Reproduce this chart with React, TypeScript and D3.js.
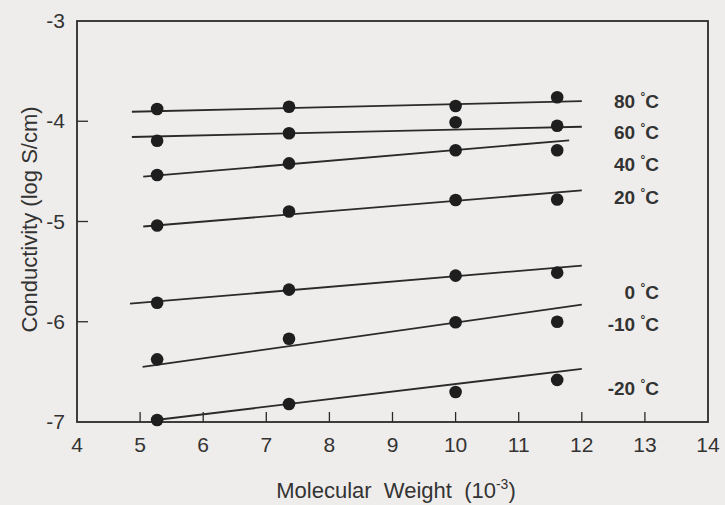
import React from "react";
import * as d3 from "d3";

const molecularWeights = [5.27, 7.36, 10.0, 11.61];
const seriesLabels = ["80", "60", "40", "20", "0", "-10", "-20"];
const conductivity80 = [-3.878, -3.855, -3.848, -3.76];
const conductivity60 = [-4.194, -4.12, -4.01, -4.045];
const conductivity40 = [-4.536, -4.42, -4.29, -4.29];
const conductivity20 = [-5.04, -4.9, -4.785, -4.78];
const conductivity0 = [-5.81, -5.68, -5.54, -5.51];
const conductivityM10 = [-6.375, -6.17, -6.005, -6.0];
const conductivityM20 = [-6.98, -6.82, -6.7, -6.58];
// fitted lines: [x0, y0, x1, y1] in data units
const fitLines = [
  [4.87, -3.905, 12.0, -3.8],
  [4.87, -4.157, 12.0, -4.055],
  [5.05, -4.553, 11.8, -4.19],
  [5.05, -5.05, 12.0, -4.69],
  [4.84, -5.82, 12.0, -5.44],
  [5.04, -6.45, 12.0, -5.83],
  [5.25, -6.98, 12.0, -6.47],
];
const labelValues = [-3.8, -4.11, -4.43, -4.76, -5.7, -6.02, -6.66];
const xTicks = [4, 5, 6, 7, 8, 9, 10, 11, 12, 13, 14];
const yTicks = [-3, -4, -5, -6, -7];

const series = [
  conductivity80,
  conductivity60,
  conductivity40,
  conductivity20,
  conductivity0,
  conductivityM10,
  conductivityM20,
];

const W = 725;
const H = 505;
const left = 77;
const right = 708;
const top = 21;
const bottom = 422;
const ink = "#2a2a2a";
const font = "'Liberation Sans', Arial, sans-serif";

export default function App() {
  const x = d3.scaleLinear().domain([4, 14]).range([left, right]);
  const y = d3.scaleLinear().domain([-7, -3]).range([bottom, top]);
  const line = d3
    .line<[number, number]>()
    .x((d) => x(d[0]))
    .y((d) => y(d[1]));

  return (
    <svg
      width={W}
      height={H}
      style={{ position: "absolute", left: 0, top: 0, display: "block" }}
    >
      <rect width={W} height={H} fill="#efedeb" />
      {/* frame */}
      <rect
        x={left}
        y={top}
        width={right - left}
        height={bottom - top}
        fill="none"
        stroke={ink}
        strokeWidth={1.8}
      />
      {/* x ticks */}
      {xTicks.map((t) => (
        <g key={"xt" + t}>
          {t > 4 && t < 14 && (
            <line
              x1={x(t)}
              x2={x(t)}
              y1={bottom}
              y2={bottom - 10}
              stroke={ink}
              strokeWidth={1.3}
            />
          )}
          <text
            x={x(t)}
            y={bottom + 30}
            textAnchor="middle"
            fontFamily={font}
            fontSize={21}
            fill="#333"
          >
            {t}
          </text>
        </g>
      ))}
      {/* y ticks */}
      {yTicks.map((t) => (
        <g key={"yt" + t}>
          {t > -7 && t < -3 && (
            <line
              x1={left}
              x2={left + 11}
              y1={y(t)}
              y2={y(t)}
              stroke={ink}
              strokeWidth={1.3}
            />
          )}
          <text
            x={left - 12}
            y={y(t) + 7}
            textAnchor="end"
            fontFamily={font}
            fontSize={21}
            fill="#333"
          >
            {t}
          </text>
        </g>
      ))}
      {/* fit lines */}
      {fitLines.map((l, i) => (
        <path
          key={"l" + i}
          d={line([
            [l[0], l[1]],
            [l[2], l[3]],
          ]) as string}
          fill="none"
          stroke={ink}
          strokeWidth={1.8}
        />
      ))}
      {/* points */}
      {series.map((s, i) =>
        s.map((v, j) => (
          <circle
            key={"p" + i + "-" + j}
            cx={x(molecularWeights[j])}
            cy={y(v)}
            r={6.3}
            fill="#1e1e1e"
          />
        ))
      )}
      {/* series labels */}
      {seriesLabels.map((lab, i) => (
        <text
          key={"lab" + i}
          x={659}
          y={y(labelValues[i]) + 7}
          textAnchor="end"
          fontFamily={font}
          fontSize={19}
          fontWeight="bold"
          fill="#333"
        >
          {lab + " "}
          <tspan fontSize={12} dy={-7}>
            °
          </tspan>
          <tspan dy={7}>C</tspan>
        </text>
      ))}
      {/* axis titles */}
      <text
        x={396}
        y={498}
        textAnchor="middle"
        fontFamily={font}
        fontSize={22}
        fill="#333"
        style={{ whiteSpace: "pre" }}
      >
        {"Molecular  Weight  (10"}
        <tspan fontSize={14} dy={-9}>
          -3
        </tspan>
        <tspan dy={9}>)</tspan>
      </text>
      <text
        transform={`translate(37, ${(top + bottom) / 2 - 2}) rotate(-90)`}
        textAnchor="middle"
        fontFamily={font}
        fontSize={22}
        fill="#333"
      >
        Conductivity (log S/cm)
      </text>
    </svg>
  );
}
